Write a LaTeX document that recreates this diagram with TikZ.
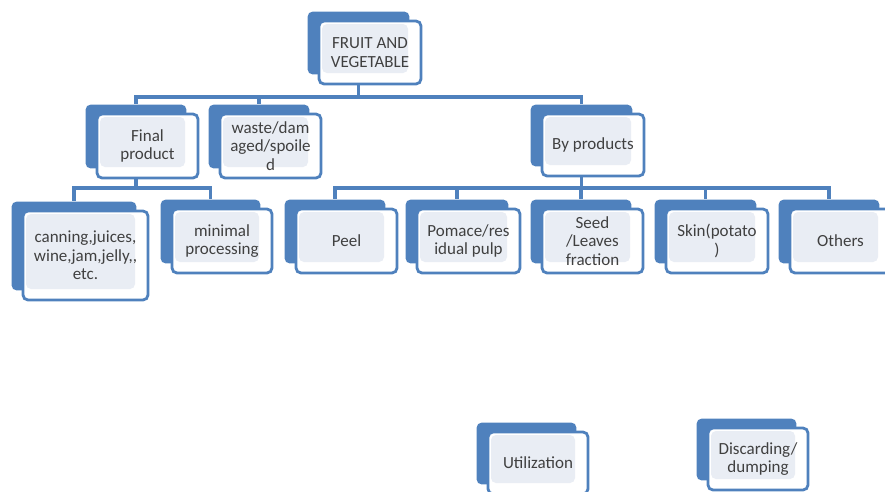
\documentclass[tikz,border=0pt]{standalone}
\usepackage{fontspec}
\setmainfont{Carlito}
\usetikzlibrary{positioning, fit, backgrounds, calc}
\definecolor{cardblue}{HTML}{4F81BD}
\definecolor{cardfill}{HTML}{E9EDF4}
\definecolor{cardtext}{HTML}{404040}
\newcommand{\cardfont}{\fontsize{17}{18.6}\selectfont}

\begin{document}
\begin{tikzpicture}[
    x=1pt, y=-1pt,
    card/.style={draw=cardblue, line width=2.8pt, fill=white, rounded corners=5pt,
      minimum width=101pt, minimum height=64pt, inner sep=0pt, align=center,
      text=cardtext, font=\cardfont,
      path picture={\fill[cardfill] ([shift={(3,3)}]path picture bounding box.north west)
        rectangle ([shift={(-13,-11)}]path picture bounding box.south east);}},
    backcard/.style={fill=cardblue, rounded corners=5pt, inner sep=0pt},
    link/.style={draw=cardblue, line width=3.2pt},
]
\useasboundingbox (0,0) rectangle (885,491);

% Top level
\node[card, minimum width=102pt, minimum height=63pt] (root) at (370,52.5) {FRUIT AND\\VEGETABLE};

% Second level
\node[card] (final) at (147.5,146) {Final\\product};
\node[card] (waste) at (270.5,146) {waste/dam\\aged/spoile\\d};
\node[card, minimum width=102pt, minimum height=62pt] (byprod) at (593,145) {By products};

% Third level: final product
\node[card, minimum width=125pt, minimum height=89pt] (canning) at (85.5,255.5) {canning,juices,\\wine,jam,jelly,{},\\etc.};
\node[card, minimum width=100pt] (minimal) at (222,241) {minimal\\processing};

% Third level: by products
\node[card] (peel) at (346.5,241) {Peel};
\node[card, minimum width=103pt] (pomace) at (468.5,241) {Pomace/res\\idual pulp};
\node[card] (seed) at (592.5,241) {Seed\\/Leaves\\fraction};
\node[card, minimum width=102pt] (skin) at (717,241) {Skin(potato\\)};
\node[card] (others) at (840.5,241) {Others};

% Bottom row
\node[card, minimum width=100pt, minimum height=62pt] (util) at (538,463) {Utilization};
\node[card, minimum width=100pt, minimum height=62pt] (discard) at (758,459) {Discarding/\\dumping};

% Shadow cards and connectors
\begin{scope}[on background layer]
\foreach \n in {root,final,waste,byprod,canning,minimal,peel,pomace,seed,skin,others,util,discard} {
    \node[backcard, fit={([shift={(-10,-8)}]\n.north west) ([shift={(-13,-11)}]\n.south east)}] (\n-b) {};
}
\coordinate (bus1) at (0,97);
\coordinate (bus2) at (0,188);
\foreach \c in {final,waste,byprod}
    \draw[link] (root-b.south) |- (bus1 -| \c-b.north) -- (\c-b.north);
\foreach \c in {canning,minimal}
    \draw[link] (final-b.south) |- (bus2 -| \c-b.north) -- (\c-b.north);
\foreach \c in {peel,pomace,seed,skin,others}
    \draw[link] (byprod-b.south) |- (bus2 -| \c-b.north) -- (\c-b.north);
\end{scope}

\end{tikzpicture}
\end{document}
